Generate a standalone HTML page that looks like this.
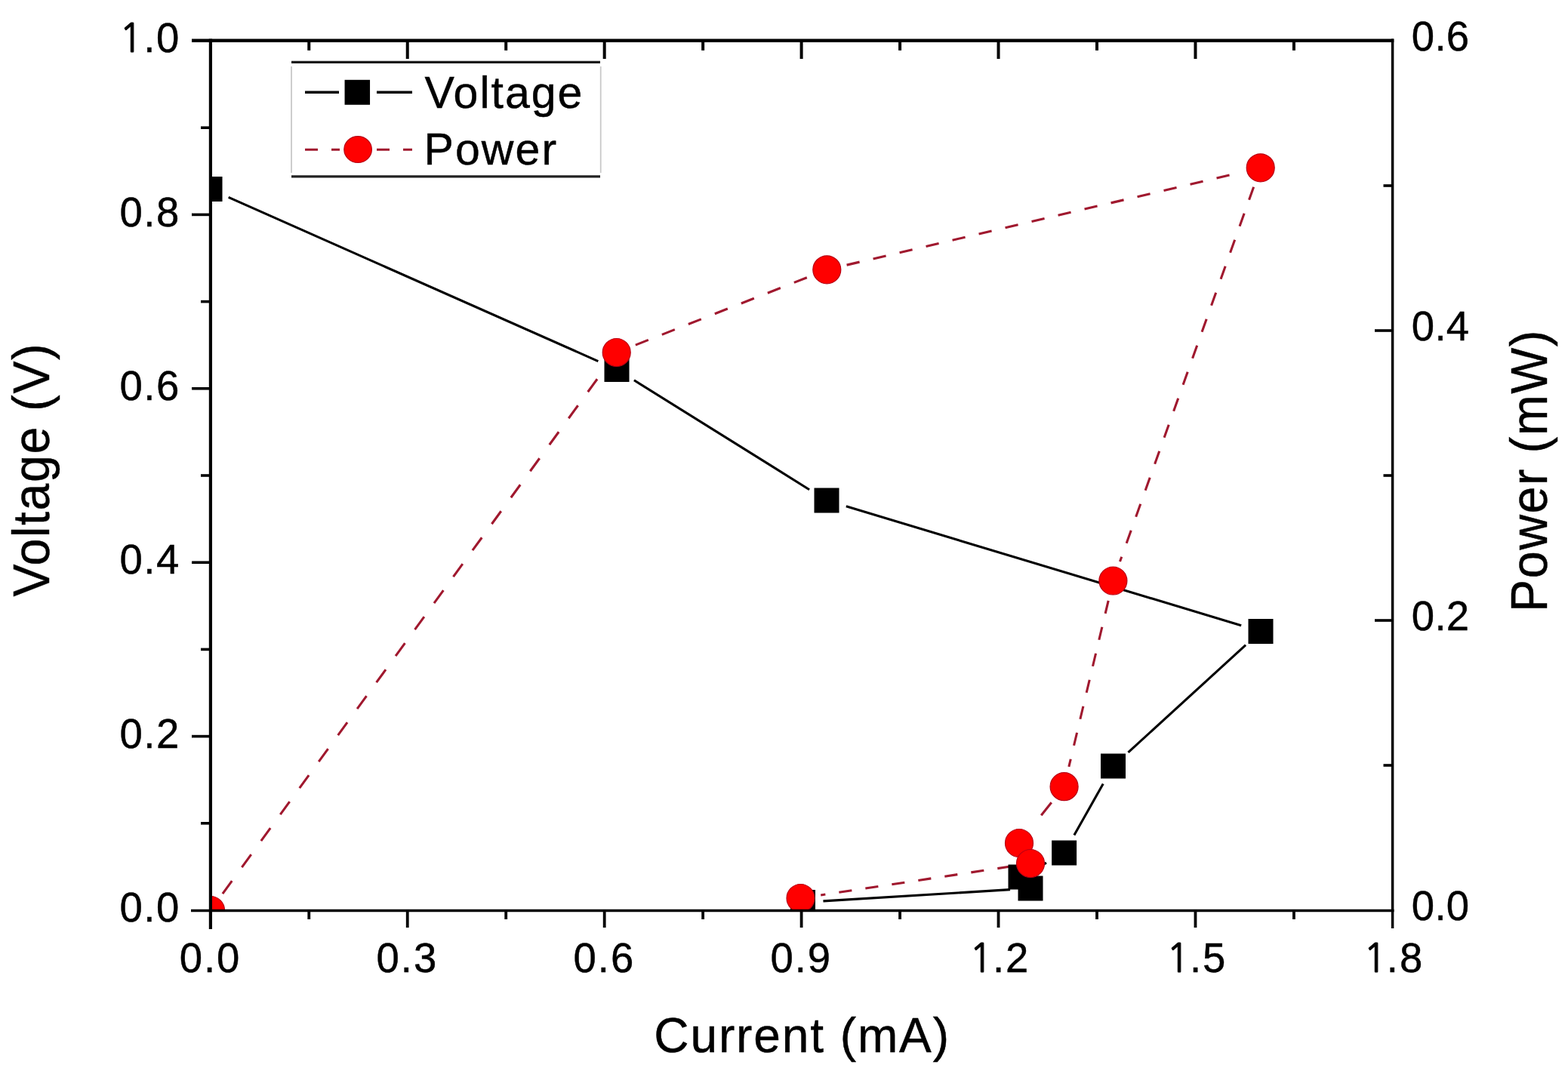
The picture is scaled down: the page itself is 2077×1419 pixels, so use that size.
<!DOCTYPE html>
<html><head><meta charset="utf-8"><title>Voltage and Power vs Current</title>
<style>
html,body{margin:0;padding:0;background:#fff;}
body{width:2077px;height:1419px;overflow:hidden;}
svg{display:block;}
text{font-family:"Liberation Sans",Arial,Helvetica,sans-serif;fill:#000;stroke:#000;stroke-width:0.45px;}
.tick text{font-size:54.5px;letter-spacing:1.5px;}
</style></head>
<body>
<svg width="2077" height="1419" viewBox="0 0 2077 1419">
<rect width="2077" height="1419" fill="#fff"/>
<defs><clipPath id="plot"><rect x="279" y="54" width="1566" height="1152"/></clipPath></defs>
<g clip-path="url(#plot)">
<g stroke="#000" stroke-width="3.1" fill="none" stroke-linecap="butt">
<line x1="302.68" y1="261.44" x2="792.32" y2="478.56"/>
<line x1="839.91" y1="503.80" x2="1072.09" y2="648.70"/>
<line x1="1120.85" y1="670.80" x2="1644.15" y2="828.70"/>
<line x1="1650.06" y1="854.71" x2="1494.44" y2="996.79"/>
<line x1="1461.23" y1="1038.51" x2="1422.87" y2="1106.49"/>
<line x1="1386.00" y1="1143.11" x2="1375.60" y2="1148.89"/>
<line x1="1338.05" y1="1178.65" x2="1090.45" y2="1193.85"/>
</g>
<g stroke="#a0182e" stroke-width="3.1" fill="none" stroke-linecap="butt">
<line x1="294.89" y1="1184.17" x2="800.81" y2="488.83" stroke-dasharray="21.02 22.26"/>
<line x1="841.82" y1="457.11" x2="1070.18" y2="367.19" stroke-dasharray="18.27 19.35"/>
<line x1="1121.58" y1="351.12" x2="1643.42" y2="228.48" stroke-dasharray="17.46 18.49"/>
<line x1="1660.62" y1="247.73" x2="1483.48" y2="744.07" stroke-dasharray="18.05 19.11"/>
<line x1="1468.16" y1="795.77" x2="1415.84" y2="1015.93" stroke-dasharray="17.47 18.50"/>
<line x1="1392.77" y1="1063.32" x2="1366.83" y2="1095.88" stroke-dasharray="21.74 23.02"/>
<line x1="1338.30" y1="1148.03" x2="1087.20" y2="1185.97" stroke-dasharray="17.19 18.20"/>
</g>
<g fill="#000">
<rect x="261.50" y="234.00" width="33" height="33"/>
<rect x="800.50" y="473.00" width="33" height="33"/>
<rect x="1078.50" y="646.50" width="33" height="33"/>
<rect x="1653.50" y="820.00" width="33" height="33"/>
<rect x="1458.00" y="998.50" width="33" height="33"/>
<rect x="1393.10" y="1113.50" width="33" height="33"/>
<rect x="1335.50" y="1145.50" width="33" height="33"/>
<rect x="1348.50" y="1160.50" width="33" height="33"/>
<rect x="1047.00" y="1179.00" width="33" height="33"/>
</g>
<g fill="#ff0000" stroke="#b80012" stroke-width="1.2">
<circle cx="279.00" cy="1206.00" r="18.5"/>
<circle cx="816.70" cy="467.00" r="18.5"/>
<circle cx="1095.30" cy="357.30" r="18.5"/>
<circle cx="1669.70" cy="222.30" r="18.5"/>
<circle cx="1474.40" cy="769.50" r="18.5"/>
<circle cx="1409.60" cy="1042.20" r="18.5"/>
<circle cx="1350.00" cy="1117.00" r="18.5"/>
<circle cx="1365.00" cy="1144.00" r="18.5"/>
<circle cx="1060.50" cy="1190.00" r="18.5"/>
</g>
</g>
<g stroke="#000" stroke-linecap="butt">
<line x1="254" y1="53.7" x2="1846.3" y2="53.7" stroke-width="4.4"/>
<line x1="278.9" y1="51.5" x2="278.9" y2="1231" stroke-width="4.2"/>
<line x1="253" y1="1206.5" x2="1846.5" y2="1206.5" stroke-width="3.4"/>
<line x1="1844.6" y1="51.5" x2="1844.6" y2="1230" stroke-width="3.5"/>
<line x1="409.27" y1="1206" x2="409.27" y2="1218" stroke-width="3.8"/>
<line x1="409.27" y1="54" x2="409.27" y2="66.8" stroke-width="4"/>
<line x1="539.73" y1="1206" x2="539.73" y2="1229" stroke-width="3.8"/>
<line x1="539.73" y1="54" x2="539.73" y2="78" stroke-width="4"/>
<line x1="670.20" y1="1206" x2="670.20" y2="1218" stroke-width="3.8"/>
<line x1="670.20" y1="54" x2="670.20" y2="66.8" stroke-width="4"/>
<line x1="800.67" y1="1206" x2="800.67" y2="1229" stroke-width="3.8"/>
<line x1="800.67" y1="54" x2="800.67" y2="78" stroke-width="4"/>
<line x1="931.13" y1="1206" x2="931.13" y2="1218" stroke-width="3.8"/>
<line x1="931.13" y1="54" x2="931.13" y2="66.8" stroke-width="4"/>
<line x1="1061.60" y1="1206" x2="1061.60" y2="1229" stroke-width="3.8"/>
<line x1="1061.60" y1="54" x2="1061.60" y2="78" stroke-width="4"/>
<line x1="1192.07" y1="1206" x2="1192.07" y2="1218" stroke-width="3.8"/>
<line x1="1192.07" y1="54" x2="1192.07" y2="66.8" stroke-width="4"/>
<line x1="1322.53" y1="1206" x2="1322.53" y2="1229" stroke-width="3.8"/>
<line x1="1322.53" y1="54" x2="1322.53" y2="78" stroke-width="4"/>
<line x1="1453.00" y1="1206" x2="1453.00" y2="1218" stroke-width="3.8"/>
<line x1="1453.00" y1="54" x2="1453.00" y2="66.8" stroke-width="4"/>
<line x1="1583.47" y1="1206" x2="1583.47" y2="1229" stroke-width="3.8"/>
<line x1="1583.47" y1="54" x2="1583.47" y2="78" stroke-width="4"/>
<line x1="1713.93" y1="1206" x2="1713.93" y2="1218" stroke-width="3.8"/>
<line x1="1713.93" y1="54" x2="1713.93" y2="66.8" stroke-width="4"/>
<line x1="266" y1="1090.80" x2="279" y2="1090.80" stroke-width="3.6"/>
<line x1="254" y1="975.60" x2="279" y2="975.60" stroke-width="3.6"/>
<line x1="266" y1="860.40" x2="279" y2="860.40" stroke-width="3.6"/>
<line x1="254" y1="745.20" x2="279" y2="745.20" stroke-width="3.6"/>
<line x1="266" y1="630.00" x2="279" y2="630.00" stroke-width="3.6"/>
<line x1="254" y1="514.80" x2="279" y2="514.80" stroke-width="3.6"/>
<line x1="266" y1="399.60" x2="279" y2="399.60" stroke-width="3.6"/>
<line x1="254" y1="284.40" x2="279" y2="284.40" stroke-width="3.6"/>
<line x1="266" y1="169.20" x2="279" y2="169.20" stroke-width="3.6"/>
<line x1="1832.5" y1="1014.00" x2="1845" y2="1014.00" stroke-width="3.6"/>
<line x1="1821" y1="822.00" x2="1845" y2="822.00" stroke-width="3.6"/>
<line x1="1832.5" y1="630.00" x2="1845" y2="630.00" stroke-width="3.6"/>
<line x1="1821" y1="438.00" x2="1845" y2="438.00" stroke-width="3.6"/>
<line x1="1832.5" y1="246.00" x2="1845" y2="246.00" stroke-width="3.6"/>
</g>
<g class="tick">
<text transform="translate(238.8,1221.20) scale(1,1.02)" text-anchor="end" style="letter-spacing:1.5px">0.0</text>
<text transform="translate(238.8,990.80) scale(1,1.02)" text-anchor="end" style="letter-spacing:1.5px">0.2</text>
<text transform="translate(238.8,760.40) scale(1,1.02)" text-anchor="end" style="letter-spacing:1.5px">0.4</text>
<text transform="translate(238.8,530.00) scale(1,1.02)" text-anchor="end" style="letter-spacing:1.5px">0.6</text>
<text transform="translate(238.8,299.60) scale(1,1.02)" text-anchor="end" style="letter-spacing:1.5px">0.8</text>
<text transform="translate(238.8,69.20) scale(1,1.02)" text-anchor="end" style="letter-spacing:1.5px"><tspan style="font-family:NanumGothic;font-size:51px;stroke-width:1.1px">1</tspan>.0</text>
<text transform="translate(1869.8,1219.40) scale(1,1.02)" style="letter-spacing:0.3px">0.0</text>
<text transform="translate(1869.8,835.40) scale(1,1.02)" style="letter-spacing:0.3px">0.2</text>
<text transform="translate(1869.8,451.40) scale(1,1.02)" style="letter-spacing:0.3px">0.4</text>
<text transform="translate(1869.8,67.40) scale(1,1.02)" style="letter-spacing:0.3px">0.6</text>
<text transform="translate(278.50,1288.3) scale(1,1.02)" text-anchor="middle" style="letter-spacing:2px">0.0</text>
<text transform="translate(539.43,1288.3) scale(1,1.02)" text-anchor="middle" style="letter-spacing:2px">0.3</text>
<text transform="translate(800.37,1288.3) scale(1,1.02)" text-anchor="middle" style="letter-spacing:2px">0.6</text>
<text transform="translate(1061.30,1288.3) scale(1,1.02)" text-anchor="middle" style="letter-spacing:2px">0.9</text>
<text transform="translate(1322.23,1288.3) scale(1,1.02)" text-anchor="middle" style="letter-spacing:2px"><tspan dx="2" style="font-family:NanumGothic;font-size:51px;stroke-width:1.1px">1</tspan><tspan dx="-2">.</tspan>2</text>
<text transform="translate(1583.17,1288.3) scale(1,1.02)" text-anchor="middle" style="letter-spacing:2px"><tspan dx="2" style="font-family:NanumGothic;font-size:51px;stroke-width:1.1px">1</tspan><tspan dx="-2">.</tspan>5</text>
<text transform="translate(1844.10,1288.3) scale(1,1.02)" text-anchor="middle" style="letter-spacing:2px"><tspan dx="2" style="font-family:NanumGothic;font-size:51px;stroke-width:1.1px">1</tspan><tspan dx="-2">.</tspan>8</text>
</g>
<!-- legend -->
<g>
<line x1="386" y1="82.3" x2="795" y2="82.3" stroke="#1a1a1a" stroke-width="3.2"/>
<line x1="386" y1="233.9" x2="795" y2="233.9" stroke="#222" stroke-width="3.2"/>
<line x1="386" y1="88" x2="386" y2="229" stroke="#c8c8c8" stroke-width="1.8"/>
<line x1="795.7" y1="88" x2="795.7" y2="229" stroke="#c8c8c8" stroke-width="1.8"/>
<line x1="404" y1="122.3" x2="449" y2="122.3" stroke="#000" stroke-width="3.4"/>
<line x1="499" y1="122.3" x2="546" y2="122.3" stroke="#000" stroke-width="3.4"/>
<rect x="456.55" y="105.8" width="33.5" height="33" fill="#000"/>
<line x1="404" y1="198.2" x2="450" y2="198.2" stroke="#a0182e" stroke-width="3.1" stroke-dasharray="17 18"/>
<line x1="499" y1="198.2" x2="546" y2="198.2" stroke="#a0182e" stroke-width="3.1" stroke-dasharray="17 18"/>
<ellipse cx="474.1" cy="198.1" rx="18.3" ry="17.4" fill="#ff0000" stroke="#b80012" stroke-width="1.2"/>
<text x="562.5" y="143" style="font-size:59px;letter-spacing:2px">Voltage</text>
<text x="561.5" y="218.3" style="font-size:59px;letter-spacing:2.1px">Power</text>
</g>
<!-- axis titles -->
<text x="866.3" y="1394" style="font-size:64px;letter-spacing:1.9px">Current (mA)</text>
<text transform="translate(64.7,790.5) rotate(-90) scale(1,1.053)" style="font-size:64.5px;letter-spacing:1.6px">Voltage (V)</text>
<text transform="translate(2049,810.8) rotate(-90) scale(1,1.053)" style="font-size:64.5px;letter-spacing:1.65px">Power (mW)</text>
</svg>
</body></html>
